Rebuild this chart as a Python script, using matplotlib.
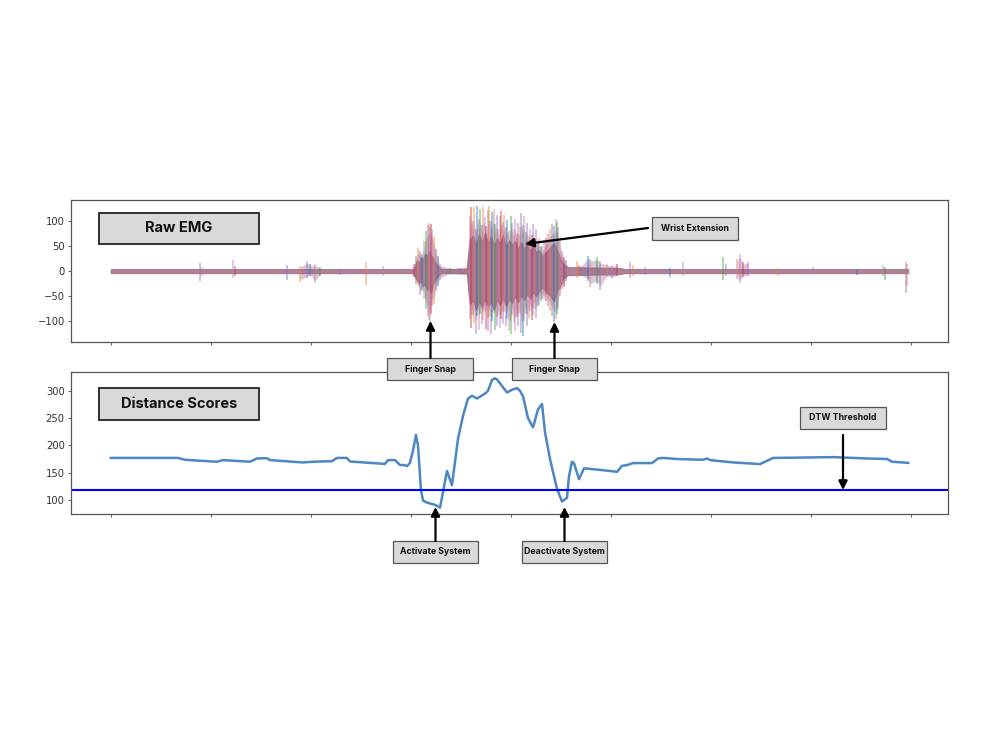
import matplotlib
matplotlib.use("Agg")
import matplotlib.pyplot as plt
from matplotlib.patches import Rectangle, FancyArrowPatch

# ------------------------------------------------------------------
# Data
# ------------------------------------------------------------------

# dense core of the EMG trace (all channels overlapping)
core_x = [0, 3020, 3040, 3060, 3080, 3100, 3120, 3140, 3160, 3180, 3200, 3220,
          3240, 3260, 3290, 3310, 3560, 3575, 3590, 3620, 3650, 3680, 3710, 3740,
          3770, 3800, 3830, 3860, 3890, 3920, 3950, 3980, 4010, 4040, 4070, 4100,
          4130, 4160, 4190, 4220, 4250, 4280, 4310, 4340, 4370, 4400, 4430, 4460,
          4490, 4520, 4570, 5090, 5140, 7970]
core_hi = [4, 4, 10, 22, 16, 28, 22, 35, 30, 42, 32, 28,
           18, 12, 6, 4, 5, 40, 62, 72, 52, 74, 58, 76,
           55, 70, 50, 66, 56, 72, 48, 62, 52, 60, 45, 58,
           44, 56, 40, 50, 38, 42, 30, 36, 42, 50, 56, 42,
           28, 15, 8, 6, 4, 4]
core_lo = [-4, -4, -12, -18, -24, -20, -30, -26, -38, -34, -44, -26,
           -20, -12, -6, -4, -5, -45, -66, -58, -76, -60, -72, -55,
           -70, -62, -78, -56, -68, -52, -70, -56, -64, -50, -62, -48,
           -58, -46, -55, -42, -50, -40, -32, -38, -45, -52, -60, -40,
           -30, -15, -8, -6, -4, -4]

# individual EMG spikes (sample, top, bottom)
spike_x = [890, 910, 1220, 1240, 1760, 1890, 1960, 1990, 2040, 2090, 2290, 2550, 2720,
           3030, 3050, 3070, 3090, 3110, 3130, 3150, 3170, 3180, 3190, 3200, 3210,
           3230, 3250, 3270, 3290, 3390, 3490, 3550,
           3590, 3605, 3620, 3635, 3650, 3665, 3680, 3695, 3710, 3725, 3740, 3755,
           3770, 3785, 3800, 3815, 3830, 3845, 3860, 3875, 3890, 3905, 3920, 3935,
           3950, 3965, 3980, 3995, 4010, 4025, 4040, 4055, 4070, 4085, 4100, 4115,
           4130, 4145, 4160, 4175, 4190, 4205, 4220, 4235, 4250, 4265, 4280, 4295,
           4310, 4325,
           4330, 4350, 4370, 4390, 4410, 4430, 4450, 4460, 4470, 4490, 4510, 4530, 4550,
           4660, 4690, 4770, 4790, 4860, 4890, 4960, 5010, 5060, 5190, 5220, 5340,
           5590, 5720, 6120, 6150, 6260, 6290, 6320, 6370, 6670, 7020, 7460, 7720,
           7740, 7950, 7960]
spike_hi = [16, 8, 23, 10, 12, 10, 20, 15, 14, 8, 5, 19, 10,
            15, 30, 47, 40, 35, 60, 80, 92, 96, 88, 95, 84,
            70, 45, 30, 15, 6, 7, 8,
            110, 128, 100, 127, 85, 129, 104, 123, 92, 127, 108, 90,
            122, 129, 100, 118, 123, 95, 113, 85, 110, 120, 98, 113,
            88, 103, 80, 110, 97, 85, 105, 75, 97, 88, 117, 92,
            110, 78, 96, 70, 84, 72, 95, 62, 84, 58, 66, 51,
            48, 42,
            60, 67, 75, 85, 95, 90, 104, 98, 88, 60, 40, 28, 22,
            21, 10, 31, 25, 28, 20, 15, 12, 15, 19, 12, 8,
            6, 19, 28, 15, 25, 35, 18, 19, 6, 8, 5, 12,
            8, 19, 14]
spike_lo = [-19, -10, -14, -10, -18, -21, -14, -10, -24, -10, -8, -27, -10,
            -12, -25, -30, -47, -40, -55, -75, -90, -98, -105, -85, -70,
            -66, -40, -30, -18, -5, -6, -4,
            -95, -113, -88, -104, -126, -90, -118, -85, -106, -98, -80, -115,
            -119, -92, -126, -100, -84, -117, -110, -90, -113, -95, -105, -82,
            -109, -96, -120, -126, -88, -104, -119, -92, -110, -85, -124, -129,
            -100, -86, -110, -93, -80, -98, -88, -75, -93, -70, -67, -60,
            -55, -50,
            -55, -60, -70, -80, -90, -102, -95, -85, -75, -50, -35, -31, -20,
            -14, -8, -20, -31, -25, -38, -12, -15, -10, -14, -10, -7,
            -11, -10, -18, -10, -15, -24, -12, -10, -10, -5, -8, -10,
            -18, -44, -30]

# DTW distance scores
dist_x = [0, 670, 740, 1060, 1120, 1390, 1460, 1560, 1590, 1920, 2020, 2210, 2260,
          2360, 2390, 2740, 2770, 2840, 2890, 2930, 2960, 2990, 3020, 3050, 3070,
          3100, 3120, 3160, 3240, 3290, 3320, 3360, 3410, 3470, 3520, 3570, 3610,
          3660, 3740, 3770, 3810, 3840, 3860, 3910, 3960, 4010, 4060, 4090, 4120,
          4170, 4220, 4270, 4310, 4340, 4390, 4460, 4510, 4560, 4580, 4610, 4630,
          4680, 4730, 4890, 5060, 5110, 5160, 5220, 5410, 5470, 5520, 5660, 5920,
          5960, 5990, 6220, 6490, 6560, 6620, 6890, 7220, 7560, 7760, 7810, 7970]
dist_y = [177, 177, 173.6, 170, 173, 170, 176, 176.5, 173, 168.7, 170, 171, 177,
          177, 170.5, 166, 173, 173, 164, 164, 162, 168, 190, 219, 200,
          118, 99, 95, 91, 86, 114, 153, 127, 212, 254, 286, 291,
          286, 295, 300, 320, 323, 321, 309, 297, 302, 305, 300, 290,
          250, 233, 266, 276, 224, 175, 120, 97, 104, 144, 170, 167,
          138, 158, 155, 151.6, 162.6, 163.8, 167.5, 167.5, 176, 177, 175, 173.6,
          176, 173, 168.7, 165.7, 171.8, 177, 177.6, 178.5, 176, 175, 170, 168]
dtw_threshold = 118.5

x_ticks = [0, 1000, 2000, 3000, 4000, 5000, 6000, 7000, 8000]
emg_yticks = [-100, -50, 0, 50, 100]
dist_yticks = [100, 150, 200, 250, 300]

spike_colors = ["#9467bd", "#e07b5a", "#b07cc6", "#d62728", "#9467bd",
                "#ff7f0e", "#9467bd", "#1f77b4", "#c08090", "#2ca02c"]

FONT = ["Inter", "DejaVu Sans"]
W, H = 1000, 752

# ------------------------------------------------------------------
# Figure
# ------------------------------------------------------------------

fig = plt.figure(figsize=(10, 7.52), dpi=100)
ax_emg = fig.add_axes([0.071, 0.545, 0.877, 0.189])
ax_dist = fig.add_axes([0.071, 0.3165, 0.877, 0.189])

# raw EMG: light spiky hull per burst, coloured strokes, dense core on top
groups = [[0]]
for i in range(1, len(spike_x)):
    if spike_x[i] - spike_x[i - 1] > 100:
        groups.append([])
    groups[-1].append(i)
for g in groups:
    if len(g) < 3:
        continue
    gx = [spike_x[i] for i in g]
    ax_emg.fill_between(gx, [spike_lo[i] * 0.8 for i in g],
                        [spike_hi[i] * 0.8 for i in g],
                        color="#bb90b6", alpha=0.5, linewidth=0)

colors = [spike_colors[i % len(spike_colors)] for i in range(len(spike_x))]
ax_emg.vlines(spike_x, spike_lo, spike_hi, colors=colors, alpha=0.42,
              linewidth=1.4)
ax_emg.fill_between(core_x, core_lo, core_hi, color="#9a6680", alpha=0.8,
                    linewidth=0.8, edgecolor="#9a6680")
ax_emg.set_yticks(emg_yticks)

# distance scores
ax_dist.plot(dist_x, dist_y, color="#4a87c3", linewidth=1.8)
ax_dist.axhline(dtw_threshold, color="#0000ff", linewidth=1.5)
ax_dist.set_yticks(dist_yticks)

for ax in (ax_emg, ax_dist):
    ax.set_xticks(x_ticks)
    ax.set_xticklabels([])
    ax.margins(x=0.05)
    ax.tick_params(labelsize=7.2, length=2.5, width=0.6, colors="#444444",
                   labelcolor="#333333", pad=2)
    for sp in ax.spines.values():
        sp.set_color("#555555")
        sp.set_linewidth(0.9)


def to_fig(x, y):
    return x / W, 1 - y / H


def label_box(left, top, right, bottom, text, size, edge="#555555", lw=0.9):
    x0, y1 = to_fig(left, top)
    x1, y0 = to_fig(right, bottom)
    fig.patches.append(Rectangle((x0, y0), x1 - x0, y1 - y0,
                                 transform=fig.transFigure, facecolor="#d9d9d9",
                                 edgecolor=edge, linewidth=lw, zorder=5))
    fig.text((x0 + x1) / 2, (y0 + y1) / 2, text, ha="center", va="center",
             fontsize=size, fontweight="bold", family=FONT, color="#111111",
             zorder=6)


def arrow(x_tail, y_tail, x_tip, y_tip):
    fig.add_artist(FancyArrowPatch(
        to_fig(x_tail, y_tail), to_fig(x_tip, y_tip),
        transform=fig.transFigure, arrowstyle="-|>", mutation_scale=13,
        color="black", linewidth=1.6, shrinkA=0, shrinkB=0, zorder=7))


label_box(99, 213, 259, 244, "Raw EMG", 10.5, edge="#222222", lw=1.3)
label_box(99, 388, 259, 420, "Distance Scores", 10.5, edge="#222222", lw=1.3)

label_box(652, 217, 738, 240, "Wrist Extension", 6.3)
arrow(648, 228, 525, 244)

label_box(387, 358, 473, 380, "Finger Snap", 6.3)
arrow(430.5, 358, 430.5, 321)
label_box(512, 358, 597, 380, "Finger Snap", 6.3)
arrow(554.5, 358, 554.5, 322)

label_box(393, 541, 478, 563, "Activate System", 6.3)
arrow(435.5, 541, 435.5, 507)
label_box(522, 541, 607, 563, "Deactivate System", 6.3)
arrow(564.5, 541, 564.5, 507)

label_box(800, 407, 886, 429, "DTW Threshold", 6.3)
arrow(843, 435, 843, 490)

fig.savefig("out.png", dpi=100, facecolor="white")
